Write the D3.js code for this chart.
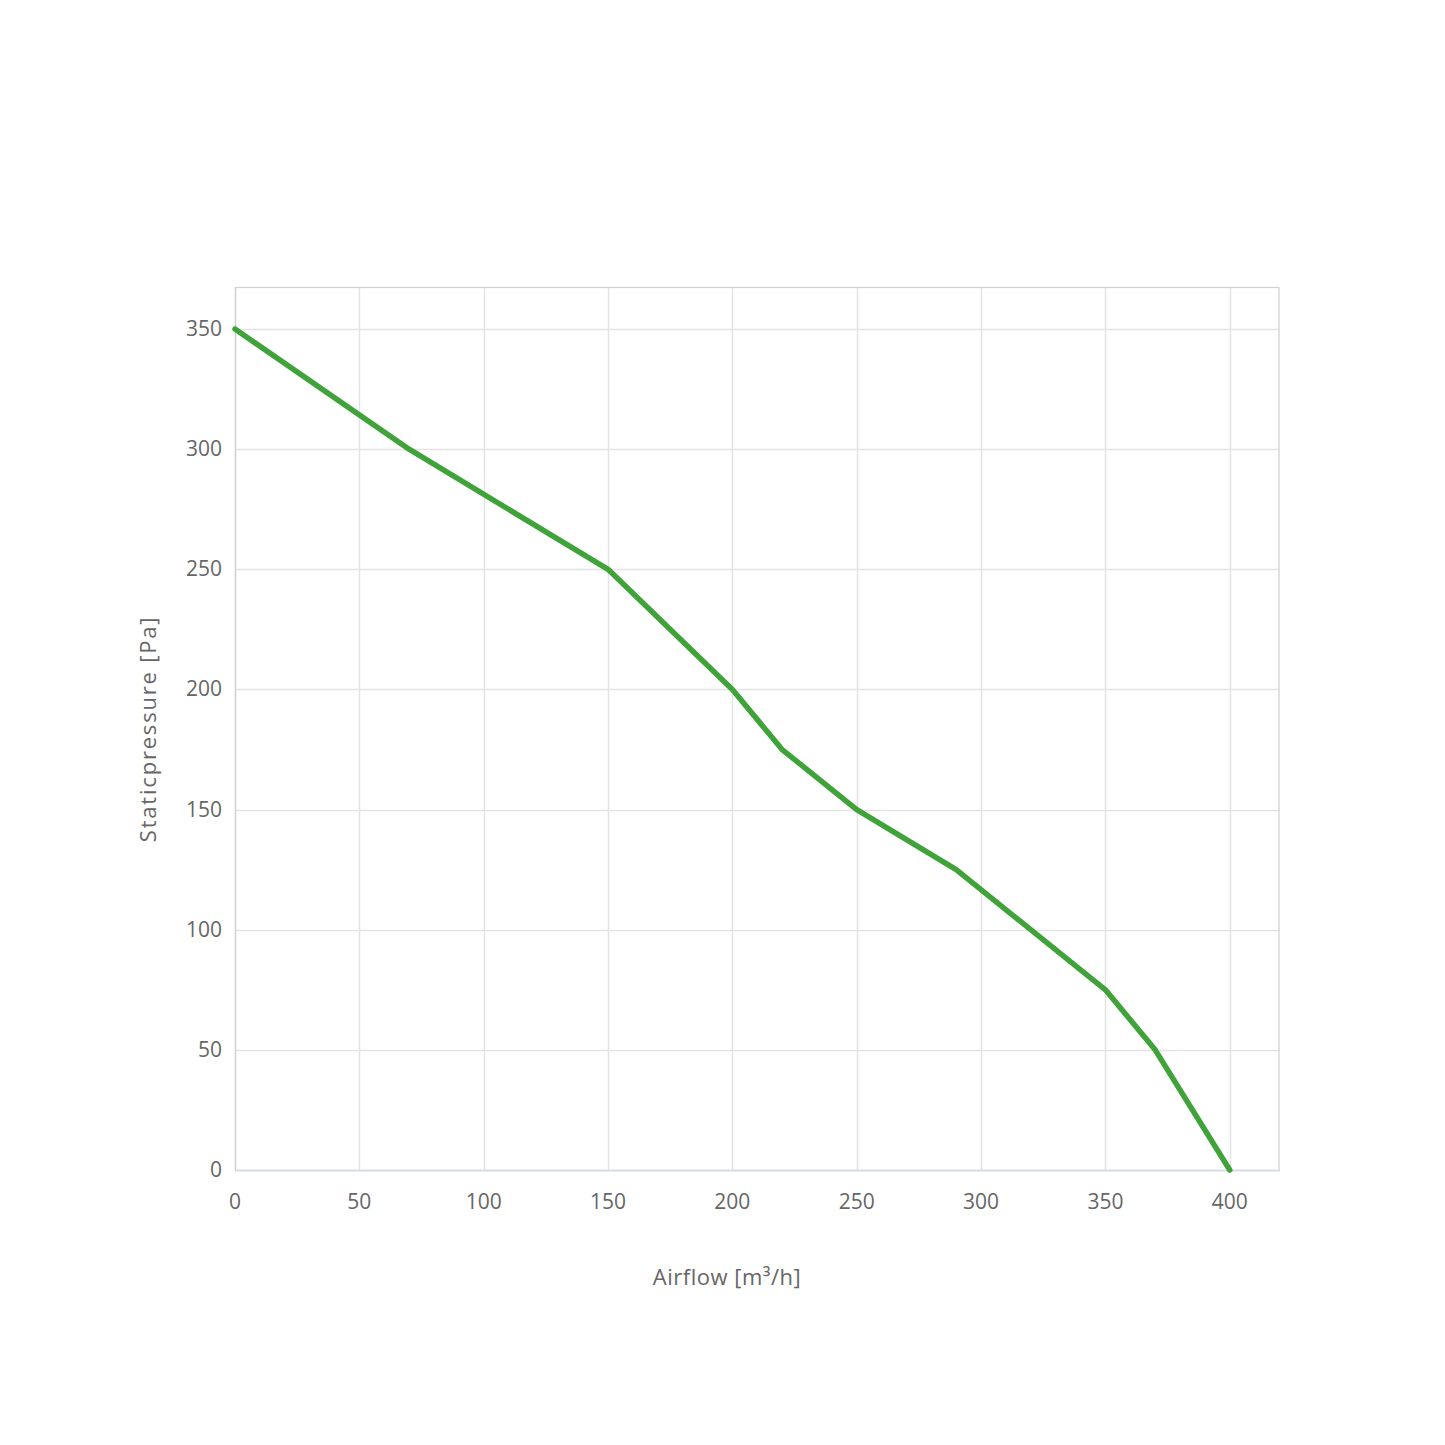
<!DOCTYPE html>
<html><head><meta charset="utf-8">
<script src="https://cdn.jsdelivr.net/npm/d3@7"></script>
<style>html,body{margin:0;padding:0;background:#fff;}</style>
</head><body>
<svg id="c" width="1445" height="1445"></svg>
<script>
const airflow = [0, 70, 150, 200, 220, 250, 290, 350, 370, 400];
const pressure = [350, 300, 250, 200, 175, 150, 125, 75, 50, 0];
const xTicks = [0, 50, 100, 150, 200, 250, 300, 350, 400];
const yTicks = [0, 50, 100, 150, 200, 250, 300, 350];
const xTitle = "Airflow [m³/h]";
const yTitle = "Staticpressure [Pa]";

const svg = d3.select("#c");
const L = 235, R = 1279.5, T = 287, B = 1170;
const x = d3.scaleLinear().domain([0, 420]).range([L, R]);
const y = d3.scaleLinear().domain([0, 367.5]).range([B, T]);
const font = "'Open Sans', sans-serif";

// grid
svg.append("g").selectAll("line").data(xTicks).join("line")
  .attr("x1", d => Math.round(x(d)) + 0.5).attr("x2", d => Math.round(x(d)) + 0.5)
  .attr("y1", T).attr("y2", B).attr("stroke", "#e3e3e6").attr("stroke-width", 1.5);
svg.append("g").selectAll("line").data(yTicks).join("line")
  .attr("x1", L).attr("x2", R)
  .attr("y1", d => Math.round(y(d)) + 0.5).attr("y2", d => Math.round(y(d)) + 0.5)
  .attr("stroke", "#e3e3e6").attr("stroke-width", 1.5);

// border
svg.append("rect").attr("x", L + 0.5).attr("y", T + 0.5)
  .attr("width", R - L - 1).attr("height", B - T)
  .attr("fill", "none").attr("stroke", "#cfcfd3").attr("stroke-width", 1.2);
svg.append("line").attr("x1", L).attr("x2", R).attr("y1", B + 0.5).attr("y2", B + 0.5)
  .attr("stroke", "#d4d9e6").attr("stroke-width", 1.5);

// tick labels
svg.append("g").selectAll("text").data(xTicks).join("text")
  .attr("x", d => x(d)).attr("y", 1209)
  .attr("text-anchor", "middle").attr("font-family", font).attr("font-size", 21)
  .attr("fill", "#666").text(d => d);
svg.append("g").selectAll("text").data(yTicks).join("text")
  .attr("x", 222).attr("y", d => y(d) + 7)
  .attr("text-anchor", "end").attr("font-family", font).attr("font-size", 21)
  .attr("fill", "#666").text(d => d);

// titles
svg.append("text").attr("x", 727).attr("y", 1285).attr("text-anchor", "middle")
  .attr("font-family", font).attr("font-size", 22).attr("letter-spacing", 0.5)
  .attr("fill", "#666").text(xTitle);
svg.append("text").attr("transform", "translate(156,729) rotate(-90)").attr("text-anchor", "middle")
  .attr("font-family", font).attr("font-size", 22).attr("letter-spacing", 1.8)
  .attr("fill", "#666").text(yTitle);

// line
const data = airflow.map((a, i) => [a, pressure[i]]);
svg.append("path").datum(data)
  .attr("d", d3.line().x(d => x(d[0])).y(d => y(d[1])))
  .attr("fill", "none").attr("stroke", "#3fa33a").attr("stroke-width", 5.5)
  .attr("stroke-linejoin", "round").attr("stroke-linecap", "round");
</script>
</body></html>
